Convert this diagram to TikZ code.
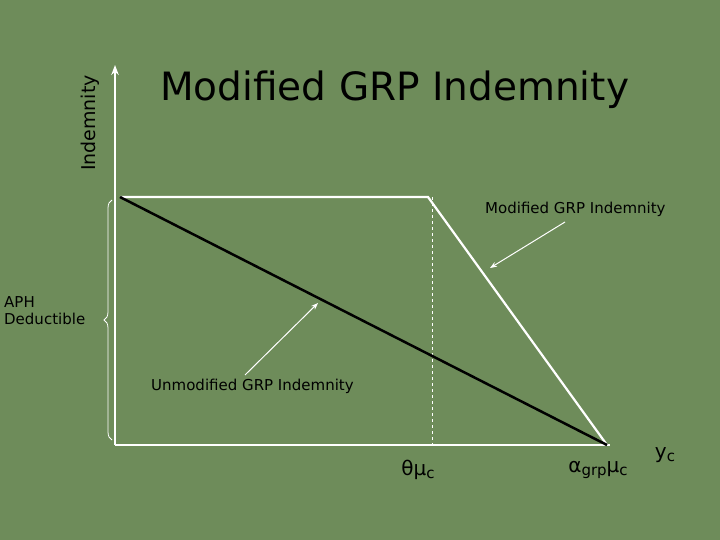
\documentclass[tikz,border=0pt]{standalone}
\usepackage{fontspec}
\setmainfont{DejaVu Sans}
\usetikzlibrary{arrows.meta,decorations.pathreplacing}
\definecolor{bg}{HTML}{6E8C5A}
\begin{document}
\begin{tikzpicture}[x=1pt,y=-1pt,
  wl/.style={white,line width=2.2pt},
  lbl/.style={black,font=\fontsize{15}{17}\selectfont},
  pt/.style={white,-{Stealth[length=7pt]},line width=1pt}]
\fill[bg] (0,0) rectangle (720,540);
\coordinate (o) at (115,445);
\coordinate (yt) at (115,65);
\coordinate (xe) at (610,445);
\coordinate (a) at (120,197);
\coordinate (b) at (428,197);
\coordinate (c) at (607,445);
\coordinate (d1) at (432,197);
\coordinate (d2) at (432,445);
\draw[wl,-{Stealth[length=10pt]}] (o) -- (yt);
\draw[wl] (o) -- (xe);
\draw[wl] (a) -- (b) -- (c);
\draw[white,dashed,line width=0.8pt] (d1) -- (d2);
\draw[black,line width=2.5pt] (a) -- (c);
\node[font=\fontsize{39}{44}\selectfont,black,anchor=west,inner sep=0pt] (title) at (160,90) {Modified GRP Indemnity};
\node[rotate=90,font=\fontsize{19}{22}\selectfont,black] (ind) at (90,123) {Indemnity};
\node[lbl,anchor=west,inner sep=0pt] (mod) at (485,209) {Modified GRP Indemnity};
\coordinate (m1) at (565,222);
\coordinate (m2) at (490,268);
\draw[pt] (m1) -- (m2);
\node[lbl,anchor=west,inner sep=0pt] (unm) at (151,386) {Unmodified GRP Indemnity};
\coordinate (u1) at (245,375);
\coordinate (u2) at (318,303);
\draw[pt] (u1) -- (u2);
\draw[white,line width=0.8pt,decorate,decoration={brace,amplitude=8pt}] (112,440) -- (112,200);
\node[lbl,align=left,anchor=west,inner sep=0pt] (aph) at (4,311) {APH\\Deductible};
\node[font=\fontsize{20}{22}\selectfont,black] (th) at (418,470) {θμ\raisebox{-0.3ex}{\fontsize{15}{16}\selectfont c}};
\node[font=\fontsize{20}{22}\selectfont,black] (al) at (598,470) {α\raisebox{-0.3ex}{\fontsize{15}{16}\selectfont grp}μ\raisebox{-0.3ex}{\fontsize{15}{16}\selectfont c}};
\node[font=\fontsize{20}{22}\selectfont,black] (yc) at (665,455) {y\raisebox{-0.3ex}{\fontsize{15}{16}\selectfont c}};
\end{tikzpicture}
\end{document}
